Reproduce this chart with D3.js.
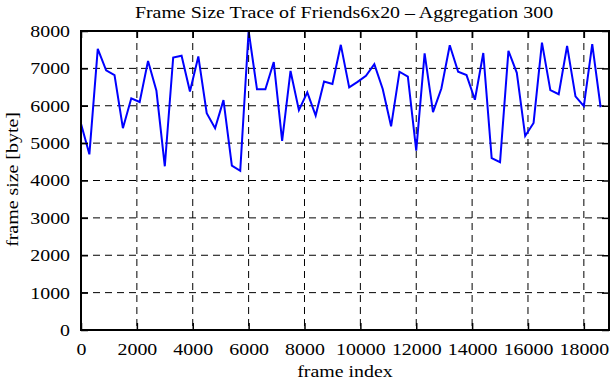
<!DOCTYPE html>
<html>
<head>
<meta charset="utf-8">
<script src="https://cdn.jsdelivr.net/npm/d3@7"></script>
<style>
  body { margin: 0; background: #fff; }
  text { font-family: "Liberation Serif", "DejaVu Serif", serif; fill: #000; }
  .grid line { stroke: #000; stroke-width: 1px; stroke-dasharray: 7,5; }
</style>
</head>
<body>
<div class="frame-chart"></div>
<script>
// frame size, one value every 300 frames
var aggregation = 300;
var frameSizes = [
  5520, 4700, 7520, 6950, 6820, 5400, 6200, 6100, 7200, 6400,
  4380, 7290, 7340, 6380, 7320, 5800, 5400, 6150, 4400, 4260,
  8000, 6440, 6440, 7170, 5060, 6930, 5880, 6360, 5740, 6650,
  6580, 7630, 6490, 6640, 6800, 7110, 6450, 5450, 6910, 6780,
  4800, 7400, 5830, 6460, 7620, 6910, 6820, 6160, 7410, 4600,
  4490, 7470, 6880, 5190, 5540, 7690, 6420, 6310, 7600, 6250,
  5990, 7650, 5960
];
var xTicks = [0, 2000, 4000, 6000, 8000, 10000, 12000, 14000, 16000, 18000];
var yTicks = [0, 1000, 2000, 3000, 4000, 5000, 6000, 7000, 8000];
var xMax = 18900, yMax = 8000;

var data = frameSizes.map(function(v, i) { return {frame: i * aggregation, size: v}; });

var margin = {top: 31, right: 2, bottom: 50, left: 81},
    width = 611 - margin.left - margin.right,
    height = 380 - margin.top - margin.bottom;

var x = d3.scaleLinear().domain([0, xMax]).range([0, width]);
var y = d3.scaleLinear().domain([0, yMax]).range([height, 0]);

var svg = d3.select(".frame-chart").append("svg")
    .attr("width", 611)
    .attr("height", 380)
  .append("g")
    .attr("transform", `translate(${margin.left}, ${margin.top})`);

// title
svg.append("text")
    .attr("x", width / 2 - 1)
    .attr("y", -13)
    .style("text-anchor", "middle")
    .style("font-size", "17px")
    .text("Frame Size Trace of Friends6x20 \u2013 Aggregation 300");

// dashed grid
var grid = svg.append("g").attr("class", "grid");
grid.selectAll(".gx").data(xTicks.slice(1)).enter().append("line")
    .attr("x1", function(d) { return x(d); })
    .attr("x2", function(d) { return x(d); })
    .attr("y1", 0).attr("y2", height);
grid.selectAll(".gy").data(yTicks.slice(1, -1)).enter().append("line")
    .attr("x1", 0).attr("x2", width)
    .attr("y1", function(d) { return y(d); })
    .attr("y2", function(d) { return y(d); });

// the trace
var valueline = d3.line()
    .x(function(d) { return x(d.frame); })
    .y(function(d) { return y(d.size); });
svg.append("path")
    .datum(data)
    .attr("fill", "none")
    .attr("stroke", "#0000ff")
    .attr("stroke-width", 2)
    .attr("d", valueline);

// axes, ticks pointing inward, mirrored on top/right
function styleAxis(g) {
    g.select(".domain").remove();
    g.selectAll(".tick line").attr("stroke", "#000").attr("stroke-width", 1.5);
    g.selectAll(".tick text").style("font-size", "17px").attr("fill", "#000");
}
svg.append("g")
    .attr("transform", `translate(0, ${height})`)
    .call(d3.axisBottom(x).tickValues(xTicks).tickFormat(d3.format("d")).tickSizeInner(-7).tickPadding(13))
    .call(styleAxis);
svg.append("g")
    .call(d3.axisTop(x).tickValues(xTicks).tickFormat("").tickSizeInner(-7))
    .call(styleAxis);
svg.append("g")
    .call(d3.axisLeft(y).tickValues(yTicks).tickFormat(d3.format("d")).tickSizeInner(-7).tickPadding(11))
    .call(styleAxis);
svg.append("g")
    .attr("transform", `translate(${width}, 0)`)
    .call(d3.axisRight(y).tickValues(yTicks).tickFormat("").tickSizeInner(-7))
    .call(styleAxis);

// border
svg.append("rect")
    .attr("width", width)
    .attr("height", height)
    .attr("fill", "none")
    .attr("stroke", "#000")
    .attr("stroke-width", 2);

// axis labels
svg.append("text")
    .attr("x", width / 2)
    .attr("y", height + 47)
    .style("text-anchor", "middle")
    .style("font-size", "17px")
    .text("frame index");
svg.append("text")
    .attr("transform", "rotate(-90)")
    .attr("x", -height / 2 + 1)
    .attr("y", -margin.left + 18)
    .style("text-anchor", "middle")
    .style("font-size", "17px")
    .text("frame size [byte]");

// the original lettering is set a bit wider than Times
svg.selectAll("text").each(function() {
    var len = this.getComputedTextLength();
    if (len > 0) {
        d3.select(this)
            .attr("textLength", len * 1.17)
            .attr("lengthAdjust", "spacingAndGlyphs");
    }
});
</script>
</body>
</html>
